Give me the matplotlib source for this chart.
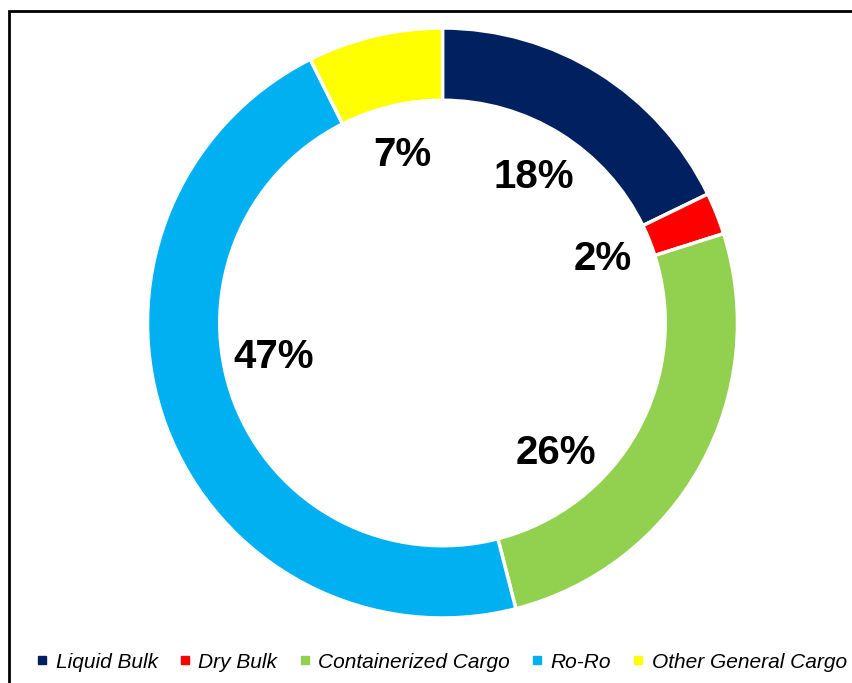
import matplotlib
matplotlib.use("Agg")
import matplotlib.pyplot as plt
from matplotlib.lines import Line2D
from matplotlib.patches import Rectangle
import numpy as np

categories = ["Liquid Bulk", "Dry Bulk", "Containerized Cargo", "Ro-Ro", "Other General Cargo"]
values = [17.8, 2.3, 25.9, 46.6, 7.4]
colors = ["#002060", "#FF0000", "#92D050", "#00B0F0", "#FFFF00"]

W, H = 852, 683
fig = plt.figure(figsize=(W / 100, H / 100), dpi=100)

cx, cy, R = 442.5, 323, 295
ax = fig.add_axes([(cx - R) / W, (H - cy - R) / H, 2 * R / W, 2 * R / H])
wedges, texts, autotexts = ax.pie(
    values, colors=colors, startangle=90, counterclock=False,
    wedgeprops=dict(width=0.245, edgecolor="white", linewidth=2.5),
    autopct=lambda p: f"{p:.0f}%", pctdistance=0.585,
    textprops=dict(fontsize=29, fontweight="bold", family="Liberation Sans", color="black"),
)
# Excel nudges two labels away from their slice midpoints
nudges = {2: -20, 3: -9}  # degrees
for i, t in enumerate(autotexts):
    if i in nudges:
        x, y = t.get_position()
        r = np.hypot(x, y)
        a = np.arctan2(y, x) + np.deg2rad(nudges[i])
        t.set_position((r * np.cos(a), r * np.sin(a)))
ax.set_xlim(-1, 1)
ax.set_ylim(-1, 1)
ax.set_aspect("equal")
ax.axis("off")

# frame of the chart area (cut off on right and bottom)
fig.patches.append(Rectangle((9 / W, -0.1), 1.2, (H - 11) / H + 0.1, transform=fig.transFigure,
                             fill=False, edgecolor="black", linewidth=2.0, clip_on=False))

handles = [Line2D([], [], marker="s", linestyle="none", markersize=6, markerfacecolor=c,
                  markeredgecolor=c) for c in colors]
leg = fig.legend(handles, categories, loc="center left", bbox_to_anchor=(37 / W, 21 / H), ncol=5,
                 frameon=False, borderpad=0, borderaxespad=0,
                 handlelength=0.5, handletextpad=0.4, columnspacing=1.05,
                 prop=dict(family="Liberation Sans", style="italic", size=15.0))

fig.savefig("out.png", dpi=100)
